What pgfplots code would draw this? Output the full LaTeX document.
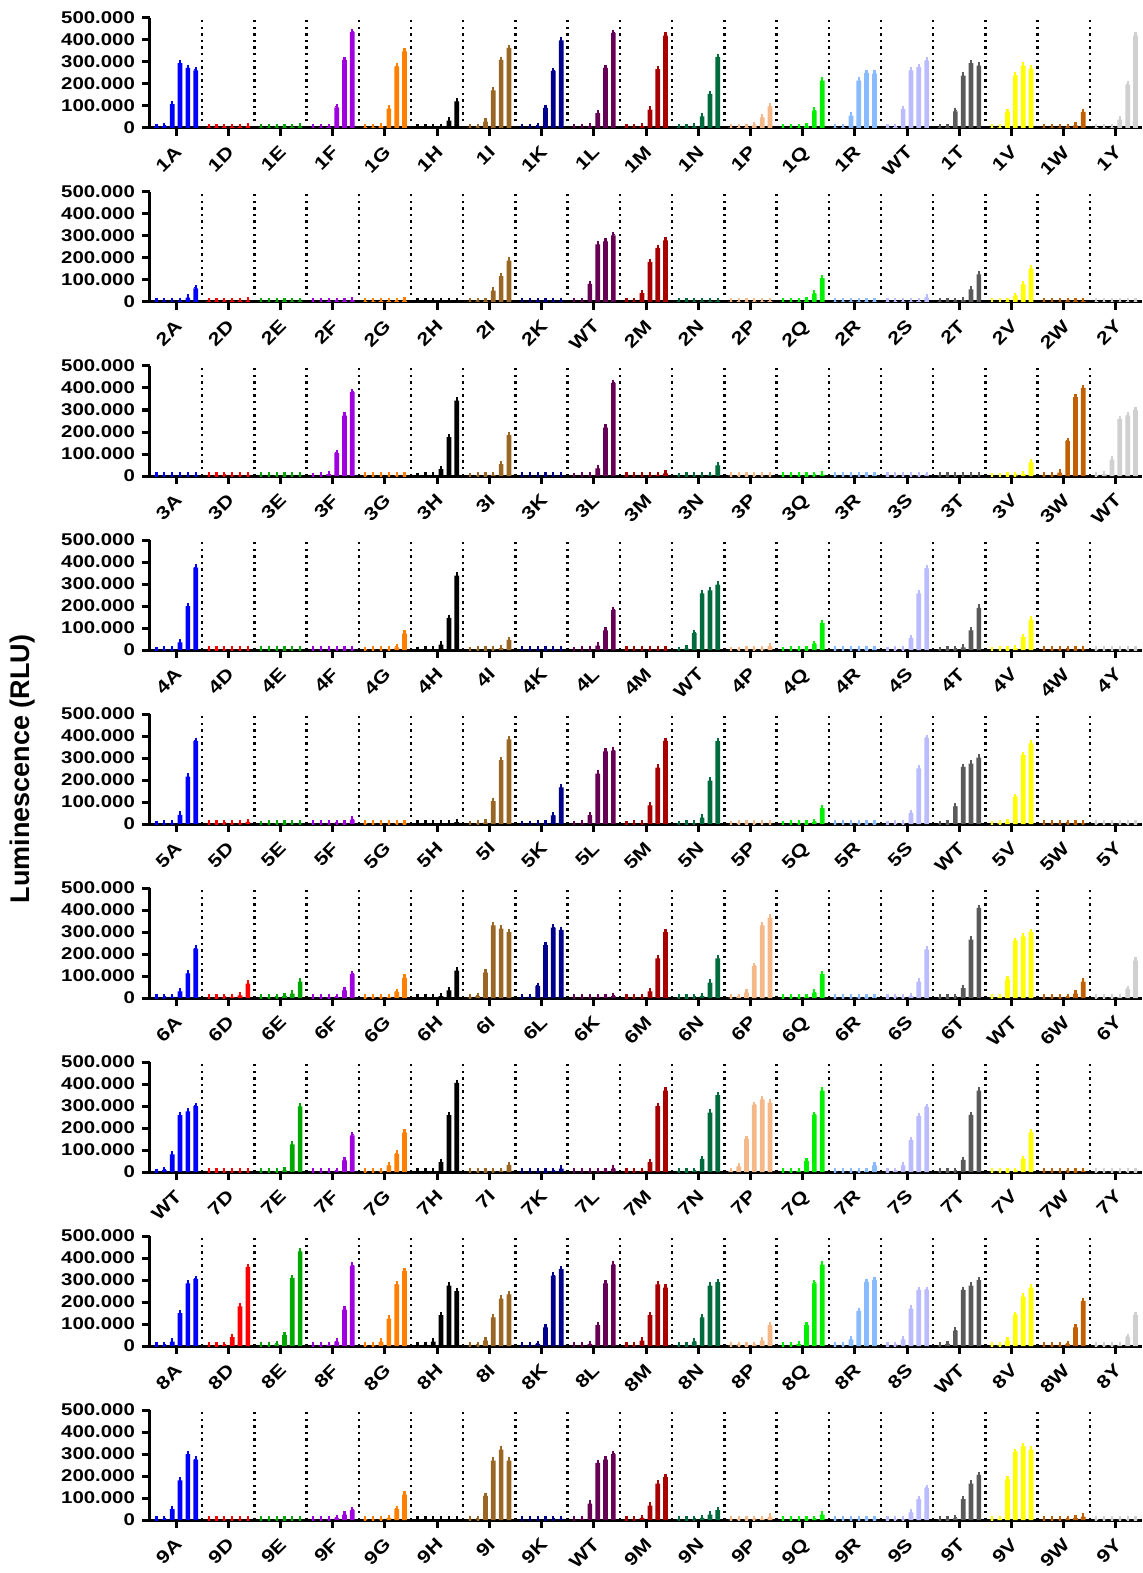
\documentclass[border=0pt]{standalone}
\usepackage{fontspec}
\setmainfont{Liberation Sans}
\newfontfamily\tickfont[FakeStretch=1.2]{Liberation Sans}
\usepackage{pgfplots}
\usepackage{pgfplotstable}
\pgfplotsset{compat=1.18}
\definecolor{c1}{HTML}{0000FF}
\definecolor{c2}{HTML}{FF0000}
\definecolor{c3}{HTML}{00A800}
\definecolor{c4}{HTML}{A000E0}
\definecolor{c5}{HTML}{FF8000}
\definecolor{c6}{HTML}{000000}
\definecolor{c7}{HTML}{9A6624}
\definecolor{c8}{HTML}{00008C}
\definecolor{c9}{HTML}{660055}
\definecolor{c10}{HTML}{A80000}
\definecolor{c11}{HTML}{006B3C}
\definecolor{c12}{HTML}{F5B888}
\definecolor{c13}{HTML}{00F000}
\definecolor{c14}{HTML}{88BBFF}
\definecolor{c15}{HTML}{BBBBFF}
\definecolor{c16}{HTML}{5A5A5A}
\definecolor{c17}{HTML}{FFFF00}
\definecolor{c18}{HTML}{C06000}
\definecolor{c19}{HTML}{D0D0D0}

\pgfplotstableread{
name b0 b1 b2 b3 b4 b5
1A 5 10 108 295 273 262
1D 3 3 4 4 5 8
1E 3 3 3 3 4 7
1F 2 3 5 94 310 436
1G 2 3 8 88 280 348
1H 2 3 3 4 33 121
1I 2 3 29 171 310 364
1K 2 3 8 91 260 398
1L 2 3 7 68 273 432
1M 2 3 8 83 268 420
1N 2 3 6 53 155 323
1P 2 2 3 12 48 98
1Q 2 2 3 8 79 215
1R 2 3 56 215 250 247
WT 2 4 86 262 277 306
1T 2 4 76 238 295 283
1V 2 3 73 238 283 270
1W 2 3 3 4 12 73
1Y 2 2 3 38 197 420
}\tA
\pgfplotstableread{
name b0 b1 b2 b3 b4 b5
2A 2 2 2 4 20 62
2D 3 3 3 5 5 6
2E 2 2 2 5 3 5
2F 2 2 4 4 4 6
2G 2 3 4 4 4 6
2H 2 2 3 3 2 4
2I 2 3 5 52 118 188
2K 2 3 4 4 2 5
WT 1 3 82 262 275 303
2M 2 3 40 182 246 280
2N 2 2 2 4 4 4
2P 2 2 2 3 3 4
2Q 2 2 3 6 38 108
2R 2 3 3 3 3 3
2S 2 2 3 3 4 20
2T 2 2 3 8 57 126
2V 1 1 3 28 80 152
2W 2 2 2 4 4 4
2Y 2 2 2 2 2 2
}\tB
\pgfplotstableread{
name b0 b1 b2 b3 b4 b5
3A 2 2 2 2 2 2
3D 2 3 3 3 3 3
3E 2 2 2 2 2 2
3F 1 2 8 105 274 381
3G 2 2 2 2 2 2
3H 1 2 3 31 177 343
3I 1 2 3 5 54 186
3K 2 2 2 2 2 2
3L 1 2 3 35 220 423
3M 2 2 2 3 5 12
3N 1 2 2 2 5 48
3P 2 2 2 2 2 2
3Q 2 2 3 3 3 6
3R 2 2 2 2 2 5
3S 2 2 2 2 3 5
3T 2 2 2 2 2 2
3V 1 1 2 3 8 62
3W 3 3 15 158 358 400
WT 2 8 74 258 274 301
}\tC
\pgfplotstableread{
name b0 b1 b2 b3 b4 b5
4A 1 2 3 35 200 374
4D 2 3 2 2 2 2
4E 2 2 2 2 2 2
4F 2 2 2 2 2 2
4G 1 2 2 3 12 75
4H 1 3 3 25 146 338
4I 1 2 2 3 8 46
4K 2 2 2 2 2 2
4L 1 2 3 20 89 182
4M 2 2 2 3 3 3
WT 1 6 77 257 271 297
4P 1 1 2 2 3 18
4Q 1 2 3 3 28 123
4R 2 2 2 2 3 5
4S 1 2 3 54 257 371
4T 1 3 4 12 89 192
4V 1 2 3 6 58 138
4W 2 3 3 3 3 3
4Y 2 2 2 2 2 2
}\tD
\pgfplotstableread{
name b0 b1 b2 b3 b4 b5
5A 1 2 3 42 215 378
5D 2 3 3 3 3 10
5E 1 2 2 3 3 3
5F 2 2 2 3 3 20
5G 2 2 2 2 2 3
5H 2 3 3 3 3 8
5I 1 2 6 104 290 385
5K 1 1 2 3 39 167
5L 1 3 40 229 330 333
5M 1 2 3 85 256 378
5N 1 2 3 29 197 377
5P 1 2 2 2 2 2
5Q 1 2 3 3 8 72
5R 2 2 2 3 2 3
5S 1 2 3 51 253 390
WT 1 3 80 260 274 302
5V 1 3 10 122 313 367
5W 2 3 3 3 3 3
5Y 2 2 2 2 2 2
}\tE
\pgfplotstableread{
name b0 b1 b2 b3 b4 b5
6A 2 3 5 30 112 225
6D 2 3 3 5 12 65
6E 2 3 3 8 20 75
6F 2 3 3 5 35 108
6G 2 3 3 5 28 92
6H 2 3 3 8 35 125
6I 3 8 115 330 315 300
6L 3 5 55 240 320 310
6K 2 3 3 5 5 8
6M 2 3 3 30 180 300
6N 2 3 3 10 70 180
6P 2 5 25 145 330 365
6Q 2 3 3 5 25 110
6R 2 2 2 3 3 5
6S 2 3 3 10 75 220
6T 2 3 3 45 265 410
WT 2 5 85 260 280 300
6W 2 3 3 5 20 75
6Y 2 2 3 5 40 170
}\tF
\pgfplotstableread{
name b0 b1 b2 b3 b4 b5
WT 1 10 80 258 276 300
7D 2 2 2 2 2 2
7E 2 2 2 8 126 298
7F 2 2 2 5 53 167
7G 2 2 3 30 83 179
7H 2 2 3 45 258 405
7I 2 2 3 3 5 32
7K 2 2 2 3 5 15
7L 2 2 3 3 5 15
7M 2 3 5 45 300 370
7N 2 3 5 60 270 350
7P 5 25 150 305 330 315
7Q 2 3 5 50 260 370
7R 2 2 2 3 5 30
7S 2 5 30 145 255 295
7T 2 3 3 55 260 370
7V 2 2 3 5 60 180
7W 2 2 2 3 3 5
7Y 2 2 2 2 2 2
}\tG
\pgfplotstableread{
name b0 b1 b2 b3 b4 b5
8A 2 3 20 150 285 305
8D 2 3 5 40 180 360
8E 2 3 8 50 310 430
8F 2 3 5 20 165 365
8G 2 3 20 125 280 340
8H 2 5 20 140 275 250
8I 2 3 25 130 215 235
8K 2 3 10 85 320 350
8L 2 3 10 95 285 370
8M 2 3 25 140 280 265
8N 2 3 20 130 275 290
8P 2 3 3 5 25 95
8Q 2 3 10 95 285 370
8R 2 3 30 160 290 300
8S 2 3 30 170 255 255
WT 2 10 70 255 275 300
8V 2 3 25 140 225 265
8W 2 3 3 10 85 205
8Y 2 3 3 5 40 140
}\tH
\pgfplotstableread{
name b0 b1 b2 b3 b4 b5
9A 2 5 50 180 300 275
9D 2 2 2 2 2 2
9E 2 2 2 2 2 2
9F 2 2 3 10 25 45
9G 2 2 3 10 50 115
9H 2 2 2 2 3 3
9I 2 3 110 270 320 270
9K 2 2 2 2 3 5
WT 2 5 75 260 275 300
9M 2 3 10 65 165 195
9N 2 2 3 10 25 45
9P 2 2 2 3 5 15
9Q 2 2 2 3 5 25
9R 2 2 2 2 2 2
9S 2 2 3 35 95 145
9T 2 3 8 95 165 205
9V 2 5 185 310 335 320
9W 2 3 3 5 10 15
9Y 2 2 2 2 2 2
}\tI
\pgfplotstabletranspose[colnames from=name]{\tAt}{\tA}
\pgfplotstabletranspose[colnames from=name]{\tBt}{\tB}
\pgfplotstabletranspose[colnames from=name]{\tCt}{\tC}
\pgfplotstabletranspose[colnames from=name]{\tDt}{\tD}
\pgfplotstabletranspose[colnames from=name]{\tEt}{\tE}
\pgfplotstabletranspose[colnames from=name]{\tFt}{\tF}
\pgfplotstabletranspose[colnames from=name]{\tGt}{\tG}
\pgfplotstabletranspose[colnames from=name]{\tHt}{\tH}
\pgfplotstabletranspose[colnames from=name]{\tIt}{\tI}

\pgfplotsset{
  panelstyle/.style={
    scale only axis, width=496pt, height=55pt, anchor=south west,
    xmin=0.5, xmax=19.5, ymin=0, ymax=500,
    axis x line=bottom, axis y line=left,
    axis line style={-, line width=1.5pt},
    x axis line style={-}, y axis line style={-},
    xtick={1,...,19},
    ytick={0,100,200,300,400,500},
    yticklabels={0,100.000,200.000,300.000,400.000,500.000},
    scaled y ticks=false,
    tick align=outside, major tick length=4pt,
    tick style={line width=1.5pt, black},
    minor xtick={1.5,2.5,...,18.5},
    minor tick length=0pt,
    xminorgrids=true,
    minor grid style={black, line width=1.2pt, dash pattern=on 1.2pt off 2.1pt},
    xticklabel style={rotate=45, anchor=north east, font=\tickfont\bfseries\fontsize{9}{10}\selectfont, inner sep=0pt, xshift=-3.7pt, yshift=-2.2pt},
    yticklabel style={font=\tickfont\bfseries\fontsize{8.5}{9}\selectfont},
    ylabel style={font=\bfseries\fontsize{13.5}{14}\selectfont},
  },
  barsty/.style={ybar, bar width=0.09, bar shift=0pt, draw=none},
}

\newcommand{\panel}[4][]{%
\begin{axis}[panelstyle, at={(0pt,-87pt*#2)}, xticklabels from table={#3}{name}, #1]
\pgfplotsinvokeforeach{1,...,19}{\addplot[barsty, fill=c##1,
  error bars/.cd, y dir=plus, y fixed=4,
  error bar style={line width=1.2pt, color=c##1},
  error mark options={line width=1.1pt, mark size=1.2pt, color=c##1}]
  table[x expr={##1+(\coordindex-2.5)*0.15}, y index=##1]{#4};}
\end{axis}}

\begin{document}
\begin{tikzpicture}
\useasboundingbox (-75pt,-722.5pt) rectangle (496pt,64pt);
\panel{0}{\tA}{\tAt}
\panel{1}{\tB}{\tBt}
\panel{2}{\tC}{\tCt}
\panel{3}{\tD}{\tDt}
\panel[ylabel={Luminescence (RLU)}, ylabel style={at={(axis description cs:-0.129,0.5)}, anchor=center}]{4}{\tE}{\tEt}
\panel{5}{\tF}{\tFt}
\panel{6}{\tG}{\tGt}
\panel{7}{\tH}{\tHt}
\panel{8}{\tI}{\tIt}
\end{tikzpicture}
\end{document}
